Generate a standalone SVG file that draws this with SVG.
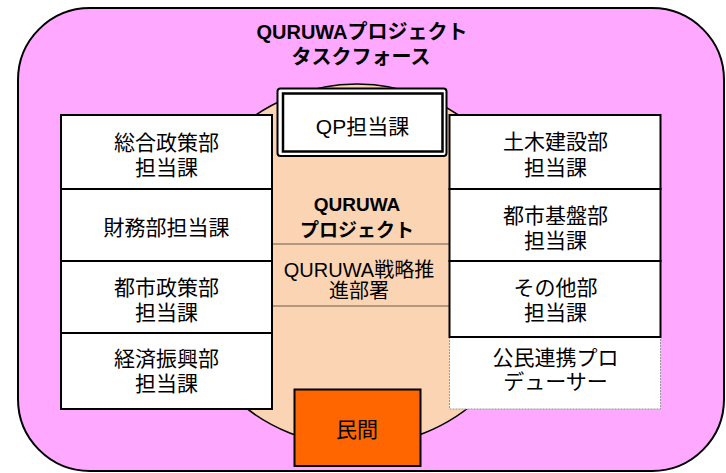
<svg xmlns="http://www.w3.org/2000/svg" width="726" height="473" viewBox="0 0 726 473">
<style>
text{font-family:"Liberation Sans","Noto Sans CJK JP",sans-serif;fill:#000;text-anchor:middle}
.t{font-size:21px}
.m{font-size:20px}
.b{font-weight:bold}
.box{fill:#fff;stroke:#000;stroke-width:2}
.dash{fill:#fff;stroke:#999;stroke-width:1;stroke-dasharray:2 1}
</style>
<g id="taskforce">
<rect x="18" y="8" width="706" height="463" rx="72" ry="72" fill="#FFA8FF" stroke="#000" stroke-width="2"/>
<text class="m b" x="362" y="38.5">QURUWAプロジェクト</text>
<text class="m b" x="361" y="64">タスクフォース</text>
</g>
<g id="project">
<circle cx="357" cy="265" r="181" fill="#FBD4B4" stroke="#000" stroke-width="1.5"/>
<text class="b" style="font-size:19px" x="357" y="211">QURUWA</text>
<text class="b" style="font-size:19px" x="357" y="237">プロジェクト</text>
</g>
<g id="connectors">
<line x1="272" y1="244" x2="449" y2="244" stroke="#6b5a4a" stroke-width="1"/>
<line x1="272" y1="306" x2="449" y2="306" stroke="#6b5a4a" stroke-width="1"/>
</g>
<g id="senryaku">
<text class="m" x="359" y="277">QURUWA戦略推</text>
<text class="m" x="359" y="298">進部署</text>
</g>
<g id="sogo">
<rect class="box" x="61" y="115" width="211" height="74"/>
<text class="t" x="166.5" y="150">総合政策部</text>
<text class="t" x="166.5" y="175">担当課</text>
</g>
<g id="zaimu">
<rect class="box" x="61" y="189" width="211" height="72"/>
<text class="t" x="166.5" y="235">財務部担当課</text>
</g>
<g id="toshiseisaku">
<rect class="box" x="61" y="261" width="211" height="72"/>
<text class="t" x="166.5" y="294.5">都市政策部</text>
<text class="t" x="166.5" y="319.5">担当課</text>
</g>
<g id="keizai">
<rect class="box" x="61" y="333" width="211" height="76"/>
<text class="t" x="166.5" y="366">経済振興部</text>
<text class="t" x="166.5" y="391">担当課</text>
</g>
<g id="kominrenkei">
<rect class="dash" x="449.5" y="337" width="211" height="72"/>
<text class="t" x="555.5" y="365">公民連携プロ</text>
<text class="t" x="555.5" y="388.5">デューサー</text>
</g>
<g id="doboku">
<rect class="box" x="449.5" y="115" width="211" height="74"/>
<text class="t" x="555.5" y="148.5">土木建設部</text>
<text class="t" x="555.5" y="174.5">担当課</text>
</g>
<g id="toshikiban">
<rect class="box" x="449.5" y="189" width="211" height="72"/>
<text class="t" x="555.5" y="222.5">都市基盤部</text>
<text class="t" x="555.5" y="247.5">担当課</text>
</g>
<g id="sonota">
<rect class="box" x="449.5" y="261" width="211" height="76"/>
<text class="t" x="555.5" y="294.5">その他部</text>
<text class="t" x="555.5" y="320">担当課</text>
</g>
<g id="qp">
<rect x="277.5" y="88.5" width="169" height="67.5" rx="3" fill="#fff" stroke="#000" stroke-width="2"/>
<rect x="283" y="93.5" width="159.5" height="58" fill="#fff" stroke="#000" stroke-width="2.5"/>
<text class="t" x="362.5" y="134">QP担当課</text>
</g>
<g id="minkan">
<rect x="294.5" y="389.5" width="126" height="76.5" fill="#FF6600" stroke="#000" stroke-width="2"/>
<text class="t" x="357" y="437">民間</text>
</g>
</svg>
